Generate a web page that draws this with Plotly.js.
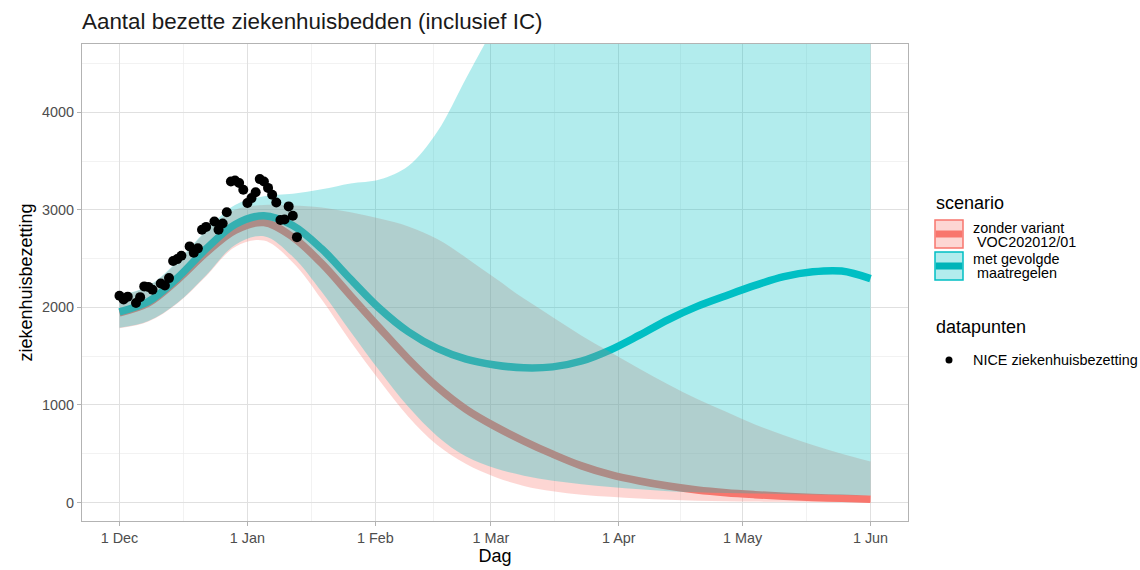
<!DOCTYPE html>
<html>
<head>
<meta charset="utf-8">
<script src="https://cdn.plot.ly/plotly-3.0.1.min.js"></script>
<style>html,body{margin:0;padding:0;background:#fff;}#chart{width:1140px;height:570px;}</style>
</head>
<body>
<div id="chart"></div>
<script>
// ---------- data ----------
const scenDates = ["2020-12-01","2020-12-08","2020-12-15","2020-12-22","2020-12-29","2021-01-05","2021-01-12","2021-01-19","2021-01-26","2021-02-02","2021-02-09","2021-02-16","2021-02-23","2021-03-02","2021-03-09","2021-03-16","2021-03-23","2021-03-30","2021-04-06","2021-04-13","2021-04-20","2021-04-27","2021-05-04","2021-05-11","2021-05-18","2021-05-25","2021-06-01"];

const maatregelenMid  = [1955,2060,2300,2600,2850,2940,2840,2600,2290,1990,1750,1580,1470,1410,1380,1390,1450,1565,1715,1875,2010,2120,2225,2315,2365,2372,2295];
const maatregelenLow  = [1790,1860,2045,2330,2640,2730,2520,2160,1750,1350,980,680,470,350,275,222,187,158,135,116,104,97,92,87,82,77,72];
const maatregelenHigh = [2125,2220,2470,2790,3050,3140,3165,3210,3270,3310,3450,3800,4350,4900,5500,6100,6700,7300,7900,8500,9100,9700,10300,10900,11500,12100,12700];

const zonderMid  = [1945,2045,2280,2560,2790,2870,2720,2450,2120,1790,1470,1185,955,780,630,495,375,285,220,168,128,100,80,64,52,42,33];
const zonderLow  = [1785,1855,2040,2320,2620,2685,2460,2080,1650,1250,880,590,395,262,170,115,80,58,40,27,18,12,9,7,6,5,4];
const zonderHigh = [2120,2215,2460,2775,3000,3050,3045,3025,2975,2910,2830,2700,2510,2300,2090,1900,1710,1540,1370,1210,1060,930,800,690,590,500,420];

const niceDates = ["2020-12-01","2020-12-02","2020-12-03","2020-12-05","2020-12-06","2020-12-07","2020-12-08","2020-12-09","2020-12-11","2020-12-12","2020-12-13","2020-12-14","2020-12-15","2020-12-16","2020-12-18","2020-12-19","2020-12-20","2020-12-21","2020-12-22","2020-12-24","2020-12-25","2020-12-26","2020-12-27","2020-12-28","2020-12-29","2020-12-30","2020-12-31","2021-01-01","2021-01-02","2021-01-03","2021-01-04","2021-01-05","2021-01-06","2021-01-07","2021-01-08","2021-01-09","2021-01-10","2021-01-11","2021-01-12","2021-01-13"];
const niceValues = [2120,2080,2110,2045,2105,2215,2210,2180,2245,2225,2300,2475,2495,2530,2625,2560,2605,2795,2825,2880,2795,2860,2975,3290,3300,3275,3205,3070,3120,3180,3315,3290,3225,3155,3075,2895,2900,3035,2940,2720];

const xTickVals = ["2020-12-01","2021-01-01","2021-02-01","2021-03-01","2021-04-01","2021-05-01","2021-06-01"];
const xTickText = ["1 Dec","1 Jan","1 Feb","1 Mar","1 Apr","1 May","1 Jun"];
const xMinorVals = ["2020-12-16 12:00","2021-01-16 12:00","2021-02-15","2021-03-16 12:00","2021-04-16","2021-05-16 12:00"];
const yTickVals = [0,1000,2000,3000,4000];
const yMinorVals = [500,1500,2500,3500,4500];

const seriesNames = ["zonder variant", " VOC202012/01", "met gevolgde", " maatregelen"];

// ---------- styling ----------
const RED = "#F8766D", TEAL = "#00BFC4";
const RED_FILL = "rgba(248,118,109,0.3)", TEAL_FILL = "rgba(0,191,196,0.3)";
const FONT = "Liberation Sans, Arial, Helvetica, sans-serif";
const LW = 7.5;

const traces = [
  {x: scenDates, y: zonderMid, mode: "lines", line: {color: RED, width: LW, shape: "spline"}, showlegend: false, hoverinfo: "skip"},
  {x: scenDates, y: maatregelenMid, mode: "lines", line: {color: TEAL, width: LW, shape: "spline"}, showlegend: false, hoverinfo: "skip"},
  {x: scenDates, y: zonderLow, mode: "lines", line: {width: 0, shape: "spline"}, showlegend: false, hoverinfo: "skip"},
  {x: scenDates, y: zonderHigh, mode: "lines", fill: "tonexty", fillcolor: RED_FILL, line: {width: 0, shape: "spline"}, showlegend: false, hoverinfo: "skip"},
  {x: scenDates, y: maatregelenLow, mode: "lines", line: {width: 0, shape: "spline"}, showlegend: false, hoverinfo: "skip"},
  {x: scenDates, y: maatregelenHigh, mode: "lines", fill: "tonexty", fillcolor: TEAL_FILL, line: {width: 0, shape: "spline"}, showlegend: false, hoverinfo: "skip"},
  {x: niceDates, y: niceValues, mode: "markers", marker: {color: "#000", size: 10}, showlegend: false, hoverinfo: "skip", cliponaxis: true}
];

// plot area in pixels
const L = 82, R = 908, T = 44, B = 521;
const px = x => (x - L) / (R - L);
const py = y => (B - y) / (B - T);

const shapes = [
  {type: "rect", xref: "paper", yref: "paper", x0: px(935), x1: px(963), y0: py(220), y1: py(248), fillcolor: RED_FILL, line: {color: RED, width: 1.5}},
  {type: "line", xref: "paper", yref: "paper", x0: px(935.8), x1: px(962.2), y0: py(234), y1: py(234), line: {color: RED, width: 7}},
  {type: "rect", xref: "paper", yref: "paper", x0: px(935), x1: px(963), y0: py(252), y1: py(280), fillcolor: TEAL_FILL, line: {color: TEAL, width: 1.5}},
  {type: "line", xref: "paper", yref: "paper", x0: px(935.8), x1: px(962.2), y0: py(266), y1: py(266), line: {color: "#00B4B9", width: 7}},
  {type: "circle", xref: "paper", yref: "paper", x0: px(945.5), x1: px(952.5), y0: py(356.5), y1: py(363.5), fillcolor: "#000", line: {width: 0}}
];

function ann(text, x, y, size) {
  return {text: text, xref: "paper", yref: "paper", x: px(x), y: py(y), xanchor: "left", yanchor: "middle",
          showarrow: false, font: {family: FONT, size: size, color: "#000"}};
}
const annotations = [
  ann("scenario", 934, 203, 18),
  ann(seriesNames[0], 971, 228, 14.4),
  ann(seriesNames[1], 971, 242, 14.4),
  ann(seriesNames[2], 971, 259, 14.4),
  ann(seriesNames[3], 971, 273, 14.4),
  ann("datapunten", 934, 327, 18),
  ann("NICE ziekenhuisbezetting", 971, 360, 14.4)
];

const layout = {
  width: 1140, height: 570,
  margin: {l: L, r: 1140 - R, t: T, b: 570 - B, pad: 0},
  paper_bgcolor: "#fff", plot_bgcolor: "#fff",
  font: {family: FONT, color: "#000"},
  title: {text: "Aantal bezette ziekenhuisbedden (inclusief IC)", font: {family: FONT, size: 22.4, color: "#1a1a1a"},
          x: 0, xref: "paper", xanchor: "left", y: 1 - 21/570, yref: "container", yanchor: "middle"},
  showlegend: false,
  xaxis: {
    type: "date", range: ["2020-11-21 22:00", "2021-06-10 02:00"],
    tickmode: "array", tickvals: xTickVals, ticktext: xTickText,
    ticks: "outside", ticklen: 4, tickcolor: "#B3B3B3", tickwidth: 1,
    tickfont: {family: FONT, size: 14.4, color: "#4D4D4D"},
    showgrid: true, gridcolor: "#E0E0E0", gridwidth: 1,
    minor: {tickmode: "array", tickvals: xMinorVals, showgrid: true, gridcolor: "#EDEDED", gridwidth: 0.7, ticks: ""},
    showline: true, linecolor: "#B3B3B3", linewidth: 1, mirror: true,
    zeroline: false, fixedrange: true,
    title: {text: "Dag", font: {family: FONT, size: 18, color: "#000"}, standoff: 4}
  },
  yaxis: {
    range: [-190, 4700],
    tickmode: "array", tickvals: yTickVals,
    ticks: "outside", ticklen: 4, tickcolor: "#B3B3B3", tickwidth: 1,
    tickfont: {family: FONT, size: 14.4, color: "#4D4D4D"},
    showgrid: true, gridcolor: "#E0E0E0", gridwidth: 1,
    minor: {tickmode: "array", tickvals: yMinorVals, showgrid: true, gridcolor: "#EDEDED", gridwidth: 0.7, ticks: ""},
    showline: true, linecolor: "#B3B3B3", linewidth: 1, mirror: true,
    zeroline: false, fixedrange: true,
    title: {text: "ziekenhuisbezetting", font: {family: FONT, size: 18, color: "#000"}, standoff: 4}
  },
  shapes: shapes,
  annotations: annotations
};

Plotly.newPlot("chart", traces, layout, {displayModeBar: false, staticPlot: true});
</script>
</body>
</html>
